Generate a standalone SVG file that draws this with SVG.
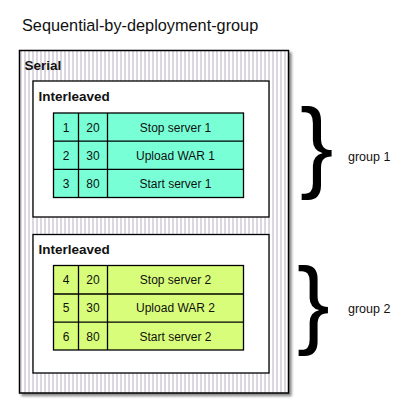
<svg xmlns="http://www.w3.org/2000/svg" width="419" height="411" viewBox="0 0 419 411">
<defs>
<pattern id="stripes" x="0" y="0" width="4" height="4" patternUnits="userSpaceOnUse">
<rect x="0" y="0" width="4" height="4" fill="#ffffff"/>
<rect x="0" y="0" width="2" height="4" fill="#dcd6e0"/>
</pattern>
<filter id="shadow" x="-5%" y="-5%" width="115%" height="115%">
<feDropShadow dx="2.5" dy="2.5" stdDeviation="1.2" flood-color="#000" flood-opacity="0.45"/>
</filter>
<style>
text{font-family:"Liberation Sans",Arial,Helvetica,sans-serif;fill:#111;}
.title{font-size:16.3px;}
.lbl{font-size:13.5px;font-weight:bold;}
.cell{font-size:12px;text-anchor:middle;}
.note{font-size:12.5px;}
.brace{font-size:100px;fill:#000;}
.box{fill:#fff;stroke:#000;stroke-width:1.3;}
.grid{fill:none;stroke:#000;stroke-width:1.3;}
.t1{fill:#78ffd6;stroke:#000;stroke-width:1.3;}
.t2{fill:#d8fd7a;stroke:#000;stroke-width:1.3;}
</style>
</defs>
<rect width="419" height="411" fill="#fff"/>
<text class="title" x="22" y="31">Sequential-by-deployment-group</text>

<g id="serial">
<rect x="19.5" y="50.5" width="269" height="342.5" fill="url(#stripes)" stroke="#000" stroke-width="1.5" filter="url(#shadow)"/>
<text class="lbl" x="24.5" y="69.5">Serial</text>
</g>

<g id="interleaved1">
<rect class="box" x="33" y="81" width="236" height="136"/>
<text class="lbl" x="38.5" y="100.5">Interleaved</text>
</g>

<g id="table1">
<rect class="t1" x="53.5" y="113" width="190" height="84.5"/>
<path class="grid" d="M78.5 113V197.5M107.5 113V197.5M53.5 141.2H243.5M53.5 169.4H243.5"/>
<text class="cell" x="66" y="131.5">1</text>
<text class="cell" x="93" y="131.5">20</text>
<text class="cell" x="175.5" y="131.5">Stop server 1</text>
<text class="cell" x="66" y="159.7">2</text>
<text class="cell" x="93" y="159.7">30</text>
<text class="cell" x="175.5" y="159.7">Upload WAR 1</text>
<text class="cell" x="66" y="187.9">3</text>
<text class="cell" x="93" y="187.9">80</text>
<text class="cell" x="175.5" y="187.9">Start server 1</text>
</g>

<g id="interleaved2">
<rect class="box" x="33" y="234.5" width="236" height="138.5"/>
<text class="lbl" x="38.5" y="253.5">Interleaved</text>
</g>

<g id="table2">
<rect class="t2" x="53.5" y="265.5" width="190" height="84.5"/>
<path class="grid" d="M78.5 265.5V350M107.5 265.5V350M53.5 294H243.5M53.5 322.2H243.5"/>
<text class="cell" x="66" y="284">4</text>
<text class="cell" x="93" y="284">20</text>
<text class="cell" x="175.5" y="284">Stop server 2</text>
<text class="cell" x="66" y="312.3">5</text>
<text class="cell" x="93" y="312.3">30</text>
<text class="cell" x="175.5" y="312.3">Upload WAR 2</text>
<text class="cell" x="66" y="340.5">6</text>
<text class="cell" x="93" y="340.5">80</text>
<text class="cell" x="175.5" y="340.5">Start server 2</text>
</g>

<g id="group1">
<text class="brace" x="300" y="178.8">}</text>
<text class="note" x="348" y="161">group 1</text>
</g>

<g id="group2">
<text class="brace" x="297" y="336.2" style="font-size:98px">}</text>
<text class="note" x="348" y="313">group 2</text>
</g>

<g id="connectors"></g>
</svg>
